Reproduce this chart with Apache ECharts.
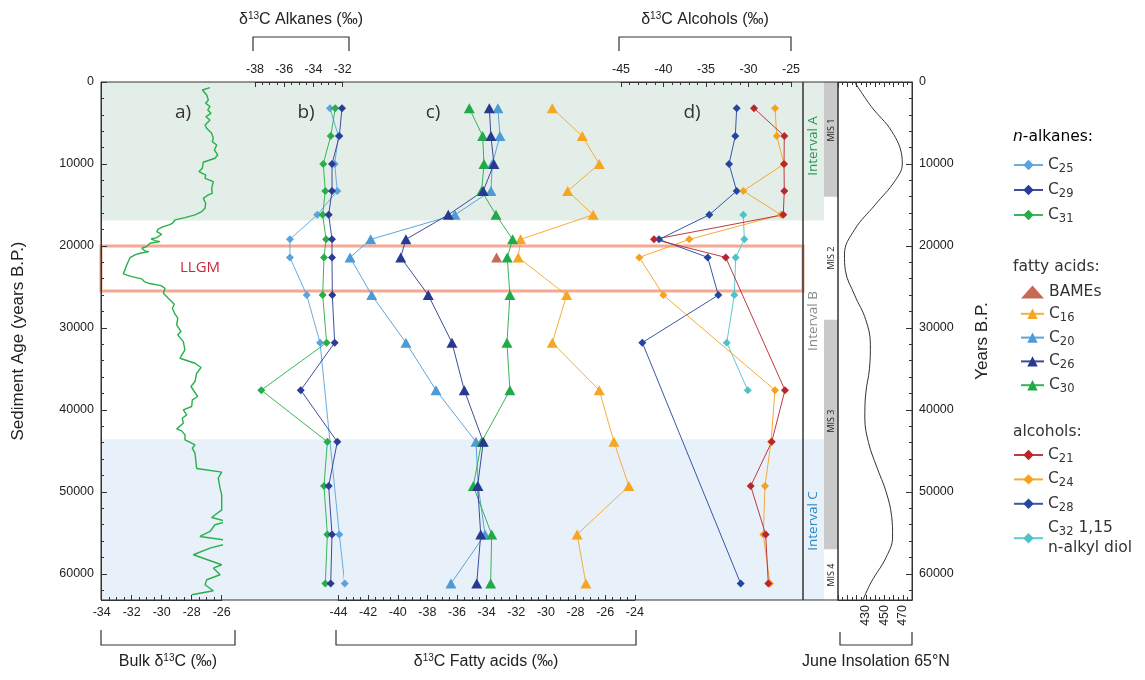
<!DOCTYPE html>
<html>
<head>
<meta charset="utf-8">
<script src="https://cdn.jsdelivr.net/npm/echarts@6/dist/echarts.min.js"></script>
<style>
html,body{margin:0;padding:0;background:#fff;}
#c{width:1145px;height:680px;}
</style>
</head>
<body>
<div id="c"></div>
<script>
// ---------------- DATA ----------------
// sample ages (years B.P.) shared by the compound-specific records
const ages = [3200, 6600, 10000, 13300, 16200, 19200, 21400, 26000, 31800, 37600, 43900, 49300, 55200, 61200];

// n-alkanes (δ13C ‰, alkane axis)
const alkC25 = [-32.87, -32.29, -32.55, -32.37, -33.74, -35.61, -35.61, -34.46, -33.55, null, null, null, -32.23, -31.86];
const alkC29 = [-32.05, -32.23, -32.73, -32.73, -32.96, -32.73, -32.73, -32.71, -32.55, -34.87, -32.37, -32.96, -32.73, -32.82];
const alkC31 = [-32.51, -32.82, -33.33, -33.19, -33.37, -33.14, -33.28, -33.37, -33.10, -37.57, -33.05, -33.28, -33.05, -33.19];

// fatty acids (δ13C ‰, fatty acid axis)
const faBAMEs = [null, null, null, null, null, null, -33.33, null, null, null, null, null, null, null];
const faC16 = [-29.57, -27.55, -26.40, -28.53, -26.81, -31.71, -31.87, -28.60, -29.57, -26.40, -25.41, -24.40, -27.89, -27.30];
const faC20 = [-33.24, -33.10, -33.62, -33.71, -36.14, -41.83, -43.22, -41.76, -39.45, -37.42, -34.72, -34.57, -34.11, -36.41];
const faC26 = [-33.82, -33.71, -33.51, -34.23, -36.59, -39.45, -39.80, -37.94, -36.34, -35.51, -34.23, -34.61, -34.40, -34.67];
const faC30 = [-35.17, -34.27, -34.18, -34.34, -33.37, -32.25, -32.61, -32.43, -32.63, -32.43, -34.34, -34.90, -33.66, -33.73];

// alcohols (δ13C ‰, alcohol axis)
const alcC21 = [-29.35, -25.79, -25.82, -25.79, -25.91, -41.12, -32.68, null, null, -25.71, -27.27, -29.74, -27.98, -27.67];
const alcC24 = [-26.88, -26.68, -25.82, -30.61, -26.18, -36.96, -42.85, -40.02, null, -26.88, -27.35, -28.06, -28.26, -27.47];
const alcC28 = [-31.39, -31.55, -32.29, -31.39, -34.61, -40.53, -34.80, -33.55, -42.49, null, null, null, null, -30.92];
const alcC32 = [null, null, null, null, -30.61, -30.49, -31.51, -31.67, -32.56, -30.09, null, null, null, null];

// bulk organic δ13C
const bulkAge = [690, 980, 1590, 2200, 2600, 3010, 3410, 3820, 4230, 4630,
  5240, 5650, 6260, 6870, 7280, 7680, 8290, 8900, 9300, 9790,
  10520, 10930, 11220, 11340, 11750, 12150, 12970, 13580, 13780, 14190,
  14800, 15400, 15810, 16220, 16540, 16830, 17240, 17440, 17640, 17930,
  18250, 18580, 18980, 19150, 19350, 19470, 19670, 20080, 20280, 20610,
  20690, 20890, 21100, 21420, 22320, 23410, 23740, 24020, 24350, 24550,
  24840, 25160, 25770, 26380, 27110, 27600, 28330, 28820, 29630, 30450,
  30850, 31670, 32680, 33700, 34310, 34840, 35530, 36540, 37150, 38370,
  38780, 39590, 40000, 40610, 41020, 41630, 42320, 42560, 43050, 43660,
  44070, 44270, 44680, 45290, 47150, 47600, 48330, 49550, 50370, 52200,
  52400, 53130, 53620, 54020, 54840, 55450, 56060, 56870, 57680, 58900,
  59310, 60120, 60730, 61340, 62070, 62560];
const bulkVal = [-26.78, -27.29, -27.0, -26.89, -27.07, -26.78, -26.93, -26.71, -27.05, -26.78,
  -27.11, -27.0, -26.67, -26.56, -26.63, -26.33, -26.49, -26.27, -26.45, -27.23,
  -27.29, -27.51, -27.23, -27.07, -27.11, -26.56, -26.67, -26.63, -26.89, -27.23,
  -27.07, -27.11, -27.33, -27.78, -28.45, -29.11, -29.29, -29.51, -29.89, -30.22,
  -30.33, -30.0, -30.33, -30.71, -30.45, -30.11, -30.78, -31.0, -31.33, -31.11,
  -30.85, -31.45, -31.78, -32.11, -32.33, -32.56, -32.0, -31.33, -31.16, -30.89,
  -30.05, -29.78, -29.89, -29.56, -29.16, -29.29, -29.11, -28.93, -29.0, -28.71,
  -28.93, -28.56, -28.45, -28.78, -27.78, -27.38, -27.67, -27.78, -28.05, -27.6,
  -27.96, -28.0, -28.56, -28.33, -28.63, -28.56, -29.0, -28.67, -28.45, -28.45,
  -28.0, -27.78, -27.96, -27.78, -27.67, -26.0, -26.23, -26.11, -26.0, -26.0,
  -25.89, -26.67, -25.67, -26.45, -26.78, -27.45, -25.11, -26.78, -27.89, -26.0,
  -26.56, -26.11, -27.0, -27.11, -26.56, -28.0];

// June insolation 65°N (W/m²)
const insAge = [0, 3000, 6000, 9000, 10000, 12000, 15000, 18000, 21000, 23000, 26000, 29000, 32000, 35000, 38000, 41000, 44000, 47000, 50000, 53000, 55500, 58000, 61000, 63200];
const insVal = [418, 436, 458, 469, 469.5, 462, 440, 418, 407, 408, 418, 430, 435, 434, 430, 429, 433, 442, 452, 458, 459, 452, 436, 427];

// zones (years B.P.)
const intervalA = [0, 16900];
const intervalC = [43600, 63200];
const llgm = [20000, 25500];
const mis1 = [0, 14000];
const mis3 = [29000, 57000];
const ageMax = 63200;

// tick labels
const yTicks = [0, 10000, 20000, 30000, 40000, 50000, 60000];
const insTicks = [430, 450, 470];

// ---------------- CHART ----------------
const FONT = '"Liberation Sans", Arial, Helvetica, sans-serif';
const LFONT = '"DejaVu Sans", Verdana, sans-serif';
const MFONT = '"Open Sans", "Noto Sans", sans-serif';
const TOP = 82, H = 518;
const AXC = '#333';

const gridDefs = [
  {left: 101, width: 702, show: true},   // 0 main frame
  {left: 101, width: 723, show: false},  // 1 background bands
  {left: 803, width: 35, show: true},    // 2 interval / MIS column frame
  {left: 824, width: 14, show: false},   // 3 MIS bars
  {left: 838, width: 74, show: true},    // 4 insolation
  {left: 101.7, width: 120, show: false},// 5 bulk
  {left: 255, width: 87.7, show: false}, // 6 alkanes
  {left: 338.5, width: 296.3, show: false}, // 7 fatty acids
  {left: 621, width: 170, show: false}   // 8 alcohols
];
const grid = gridDefs.map(g => ({left: g.left, width: g.width, top: TOP, height: H, show: g.show, z: 10,
  borderColor: AXC, borderWidth: 1, backgroundColor: 'transparent', containLabel: false}));

const hiddenX = i => ({gridIndex: i, type: 'value', show: false, min: 0, max: 1});
const tickAxis = (gi, pos, min, max, interval, split, showLabel) => ({
  gridIndex: gi, type: 'value', position: pos, min: min, max: max, interval: interval, z: 10,
  axisLine: {show: true, onZero: false, lineStyle: {color: AXC, width: 1}},
  axisTick: {show: true, inside: true, length: 5, lineStyle: {color: AXC}},
  minorTick: {show: true, splitNumber: split, length: 3, lineStyle: {color: AXC}},
  splitLine: {show: false},
  axisLabel: {show: showLabel, color: '#222', fontFamily: FONT, fontSize: 12.5, margin: 6}
});

const xAxis = [
  hiddenX(0), hiddenX(1), hiddenX(2), hiddenX(3),
  Object.assign(tickAxis(4, 'bottom', 400, 480, 10, 2, true), {
    axisLabel: {show: true, color: '#222', fontFamily: FONT, fontSize: 12.5, rotate: 90, margin: 5,
      customValues: insTicks}
  }),
  tickAxis(4, 'top', 400, 480, 10, 2, false),
  tickAxis(5, 'bottom', -34, -26, 2, 4, true),
  tickAxis(6, 'top', -38, -32, 2, 4, true),
  tickAxis(7, 'bottom', -44, -24, 2, 4, true),
  tickAxis(8, 'top', -45, -25, 5, 5, true)
];

const yAxis = gridDefs.map((g, i) => {
  const base = {gridIndex: i, type: 'value', inverse: true, min: 0, max: ageMax, interval: 10000};
  if (i === 0 || i === 4) {
    return Object.assign(base, {
      show: true, position: i === 0 ? 'left' : 'right', z: 10,
      axisLine: {show: true, lineStyle: {color: AXC}},
      axisTick: {show: true, inside: true, length: 6, lineStyle: {color: AXC}},
      minorTick: {show: true, splitNumber: 5, length: 3, lineStyle: {color: AXC}},
      splitLine: {show: false},
      axisLabel: {show: true, color: '#222', fontFamily: FONT, fontSize: 12.5, margin: 7,
        customValues: yTicks, formatter: v => String(v)},
      name: i === 0 ? 'Sediment Age (years B.P.)' : 'Years B.P.',
      nameLocation: 'middle', nameRotate: 90,
      nameGap: i === 0 ? 74 : 62,
      nameTextStyle: {color: '#222', fontFamily: FONT, fontSize: 17}
    });
  }
  return Object.assign(base, {show: false});
});

const pts = vals => ages.map((a, i) => vals[i] == null ? null : [vals[i], a]).filter(p => p);

function lineSeries(name, xi, yi, vals, color, symbol, size) {
  return {
    type: 'line', name: name, xAxisIndex: xi, yAxisIndex: yi, data: pts(vals),
    symbol: symbol, symbolSize: size, showSymbol: true,
    lineStyle: {width: 1, color: color, opacity: 0.9},
    itemStyle: {color: color},
    clip: false, animation: false, z: 3
  };
}
const DIA = 8, TRI = [11, 10];

const series = [
  // background bands
  {type: 'scatter', xAxisIndex: 1, yAxisIndex: 1, data: [], silent: true, z: -1,
    markArea: {silent: true, data: [
      [{yAxis: intervalA[0], itemStyle: {color: '#e4eee8'}}, {yAxis: intervalA[1]}],
      [{yAxis: intervalC[0], itemStyle: {color: '#e8f1f9'}}, {yAxis: intervalC[1]}]
    ]}},
  // MIS bars
  {type: 'scatter', xAxisIndex: 3, yAxisIndex: 3, data: [], silent: true, z: -1,
    markArea: {silent: true, itemStyle: {color: '#c9c9c9'}, data: [
      [{yAxis: mis1[0]}, {yAxis: mis1[1]}],
      [{yAxis: mis3[0]}, {yAxis: mis3[1]}]
    ]}},
  // LLGM box
  {type: 'scatter', xAxisIndex: 0, yAxisIndex: 0, data: [], silent: true, z: 1,
    markArea: {silent: true, itemStyle: {color: 'rgba(0,0,0,0)', borderColor: '#f5a892', borderWidth: 3},
      data: [[{yAxis: llgm[0]}, {yAxis: llgm[1]}]]}},
  // bulk
  {type: 'line', name: 'bulk', xAxisIndex: 6, yAxisIndex: 5,
    data: bulkAge.map((a, i) => [bulkVal[i], a]), showSymbol: false, symbol: 'none',
    lineStyle: {width: 1.4, color: '#27b04c'}, itemStyle: {color: '#27b04c'}, clip: false, animation: false, z: 3},
  // insolation
  {type: 'line', name: 'ins', xAxisIndex: 4, yAxisIndex: 4,
    data: insAge.map((a, i) => [insVal[i], a]), smooth: 0.4, showSymbol: false, symbol: 'none',
    lineStyle: {width: 1, color: '#333'}, clip: true, animation: false, z: 3},
  // alkanes
  lineSeries('C25', 7, 6, alkC25, '#5ba3dc', 'diamond', DIA),
  lineSeries('C31', 7, 6, alkC31, '#26ae4a', 'diamond', DIA),
  lineSeries('C29', 7, 6, alkC29, '#2b3b96', 'diamond', DIA),
  // fatty acids
  lineSeries('C16', 8, 7, faC16, '#f5a623', 'triangle', TRI),
  lineSeries('C20', 8, 7, faC20, '#4c9ad6', 'triangle', TRI),
  lineSeries('C30', 8, 7, faC30, '#22aa4a', 'triangle', TRI),
  lineSeries('C26', 8, 7, faC26, '#28398f', 'triangle', TRI),
  {type: 'scatter', name: 'BAMEs', xAxisIndex: 8, yAxisIndex: 7, data: pts(faBAMEs),
    symbol: 'triangle', symbolSize: TRI, itemStyle: {color: '#b8452b'}, clip: false, animation: false, z: 3},
  // alcohols
  lineSeries('C32 1,15 n-alkyl diol', 9, 8, alcC32, '#4ec3c6', 'diamond', DIA),
  lineSeries('C28', 9, 8, alcC28, '#2346a0', 'diamond', DIA),
  lineSeries('C24', 9, 8, alcC24, '#f4a21f', 'diamond', DIA),
  lineSeries('C21', 9, 8, alcC21, '#b8262e', 'diamond', DIA)
];

const legRich = {
  n: {fontFamily: LFONT, fontSize: 15.5, color: '#333', lineHeight: 20},
  s: {fontFamily: LFONT, fontSize: 11.5, color: '#333', lineHeight: 9, verticalAlign: 'bottom'}
};
const legFmt = name => {
  if (name === 'BAMEs') return '{n|BAMEs}';
  const m = name.match(/^C(\d+)(.*)$/);
  let out = '{n|C}{s|' + m[1] + '}';
  if (m[2]) {
    const rest = m[2].trim().split(' ');
    out += '{n| ' + rest[0] + '}\n{n|' + rest.slice(1).join(' ') + '}';
  }
  return out;
};
const legBase = (data, left, top, w, gap) => ({
  data: data, orient: 'vertical', left: left, top: top, itemWidth: w, itemHeight: 13, itemGap: gap,
  selectedMode: false, formatter: legFmt, padding: 0, z: 20,
  textStyle: {rich: legRich, fontFamily: LFONT, fontSize: 15.5, color: '#333'}
});
const legend = [
  legBase(['C25', 'C29', 'C31'], 1013, 157, 29, 7),
  legBase(['BAMEs', 'C16', 'C20', 'C26', 'C30'], 1020, 284, 23, 5.8),
  legBase(['C21', 'C24', 'C28', 'C32 1,15 n-alkyl diol'], 1013, 447, 29, 6.4)
];

const supRich = {
  m: {fontFamily: FONT, fontSize: 16, color: '#222', lineHeight: 18},
  p: {fontFamily: FONT, fontSize: 10, color: '#222', lineHeight: 10, verticalAlign: 'top'}
};
const title = (txt, x, y) => ({type: 'text', x: x, y: y, silent: true, z: 100,
  style: {text: txt, rich: supRich, align: 'center', verticalAlign: 'middle', font: '16px ' + FONT, fill: '#222'}});
const bracket = (x1, x2, y1, y2) => ({type: 'polyline', silent: true, z: 100,
  shape: {points: [[x1, y1], [x1, y2], [x2, y2], [x2, y1]]}, style: {stroke: '#333', lineWidth: 1.2, fill: null}});
const txt = (s, x, y, size, color, family, rot, align) => ({type: 'text', x: x, y: y, rotation: rot || 0, silent: true, z: 100,
  style: {text: s, align: align || 'center', verticalAlign: 'middle', font: size + 'px ' + family, fill: color}});

const graphic = [
  title('{m|δ}{p|13}{m|C Alkanes (‰)}', 301, 20),
  title('{m|δ}{p|13}{m|C Alcohols (‰)}', 705, 20),
  title('{m|Bulk δ}{p|13}{m|C (‰)}', 168, 662),
  title('{m|δ}{p|13}{m|C Fatty acids (‰)}', 486, 662),
  title('{m|June Insolation 65°N}', 876, 662),
  bracket(253, 349, 51, 37),
  bracket(619, 791, 51, 37),
  bracket(101, 235, 630, 645),
  bracket(336, 636, 630, 645),
  bracket(840, 912, 632, 645),
  txt('a)', 183, 113, 19, '#333', MFONT),
  txt('b)', 306, 113, 19, '#333', MFONT),
  txt('c)', 433, 113, 19, '#333', MFONT),
  txt('d)', 692, 113, 19, '#333', MFONT),
  txt('LLGM', 200, 268, 15, '#c8283c', MFONT),
  txt('Interval A', 813, 146, 13.5, '#1f9b53', MFONT, Math.PI / 2),
  txt('Interval B', 813, 321, 13.5, '#8a8a8a', MFONT, Math.PI / 2),
  txt('Interval C', 813, 521, 13.5, '#2a86c6', MFONT, Math.PI / 2),
  txt('MIS 1', 831, 130, 9, '#222', MFONT, Math.PI / 2),
  txt('MIS 2', 831, 258, 9, '#222', MFONT, Math.PI / 2),
  txt('MIS 3', 831, 421, 9, '#222', MFONT, Math.PI / 2),
  txt('MIS 4', 831, 575, 9, '#222', MFONT, Math.PI / 2),
  {type: 'text', x: 1013, y: 137, silent: true, z: 100, style: {
    text: '{i|n}{n|-alkanes:}', verticalAlign: 'middle', rich: {
      i: {fontFamily: LFONT, fontSize: 15.5, fontStyle: 'italic', color: '#333'},
      n: {fontFamily: LFONT, fontSize: 15.5, color: '#333'}}}},
  txt('fatty acids:', 1013, 267, 15.5, '#333', LFONT, 0, 'left'),
  txt('alcohols:', 1013, 432, 15.5, '#333', LFONT, 0, 'left')
];

const chart = echarts.init(document.getElementById('c'), null, {renderer: 'canvas'});
chart.setOption({
  animation: false,
  backgroundColor: '#fff',
  grid: grid, xAxis: xAxis, yAxis: yAxis, series: series, legend: legend, graphic: graphic
});
</script>
</body>
</html>
